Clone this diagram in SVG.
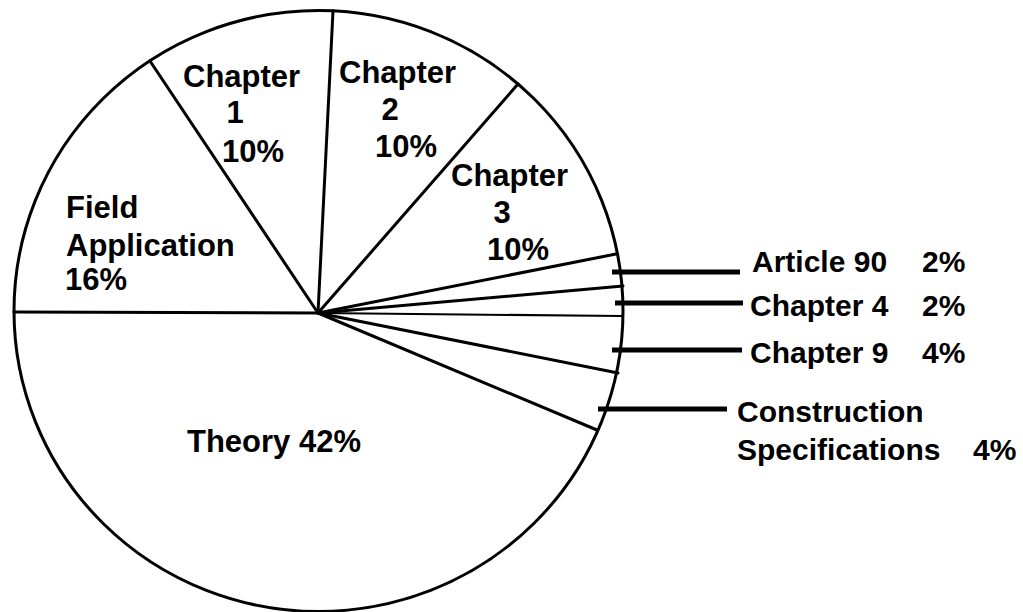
<svg xmlns="http://www.w3.org/2000/svg" width="1023" height="612" viewBox="0 0 1023 612">
<style>
.t{font-family:"Liberation Sans",Arial,sans-serif;font-weight:bold;font-size:31px;fill:#000}
.r{font-family:"Liberation Sans",Arial,sans-serif;font-weight:bold;font-size:30px;fill:#000}
.s{stroke:#000;stroke-width:3;fill:none;stroke-linecap:round}
.l{stroke:#000;stroke-width:5;fill:none}
</style>
<rect width="1023" height="612" fill="#fff"/>
<g id="pie">
<ellipse cx="318.5" cy="311" rx="304.5" ry="300.5" class="s"/>
</g>
<g id="spokes">
<line class="s" x1="318" y1="313" x2="14" y2="312"/>
<line class="s" x1="318" y1="313" x2="150" y2="61"/>
<line class="s" x1="318" y1="313" x2="333" y2="11"/>
<line class="s" x1="318" y1="313" x2="518" y2="84"/>
<line class="s" x1="318" y1="313" x2="616" y2="254"/>
<line class="s" x1="318" y1="313" x2="623" y2="286"/>
<line class="s" style="stroke-width:2" x1="318" y1="313" x2="622" y2="316"/>
<line class="s" x1="318" y1="313" x2="618" y2="373"/>
<line class="s" x1="318" y1="313" x2="597" y2="430"/>
</g>
<g id="field">
<text class="t" x="66" y="218">Field</text>
<text class="t" x="66" y="256">Application</text>
<text class="t" x="65" y="290">16%</text>
</g>
<g id="chapter1">
<text class="t" x="183" y="87">Chapter</text>
<text class="t" x="235" y="123" text-anchor="middle">1</text>
<text class="t" x="222" y="162">10%</text>
</g>
<g id="chapter2">
<text class="t" x="339" y="83">Chapter</text>
<text class="t" x="390" y="120" text-anchor="middle">2</text>
<text class="t" x="375" y="157">10%</text>
</g>
<g id="chapter3">
<text class="t" x="451" y="186">Chapter</text>
<text class="t" x="502" y="223" text-anchor="middle">3</text>
<text class="t" x="487" y="260">10%</text>
</g>
<g id="theory">
<text class="t" x="187" y="452">Theory 42%</text>
</g>
<g id="connectors">
<line class="l" x1="612" y1="272" x2="740" y2="272"/>
<line class="l" x1="615" y1="303" x2="743" y2="303"/>
<line class="l" x1="612" y1="350" x2="742" y2="350"/>
<line class="l" x1="598" y1="409" x2="727" y2="409"/>
</g>
<g id="article90">
<text class="r" x="752" y="272">Article 90</text>
<text class="r" x="922" y="272">2%</text>
</g>
<g id="chapter4">
<text class="r" x="750" y="316">Chapter 4</text>
<text class="r" x="922" y="316">2%</text>
</g>
<g id="chapter9">
<text class="r" x="750" y="363">Chapter 9</text>
<text class="r" x="922" y="363">4%</text>
</g>
<g id="construction">
<text class="r" x="737" y="422">Construction</text>
<text class="r" x="737" y="460">Specifications</text>
<text class="r" x="973" y="460">4%</text>
</g>
</svg>
